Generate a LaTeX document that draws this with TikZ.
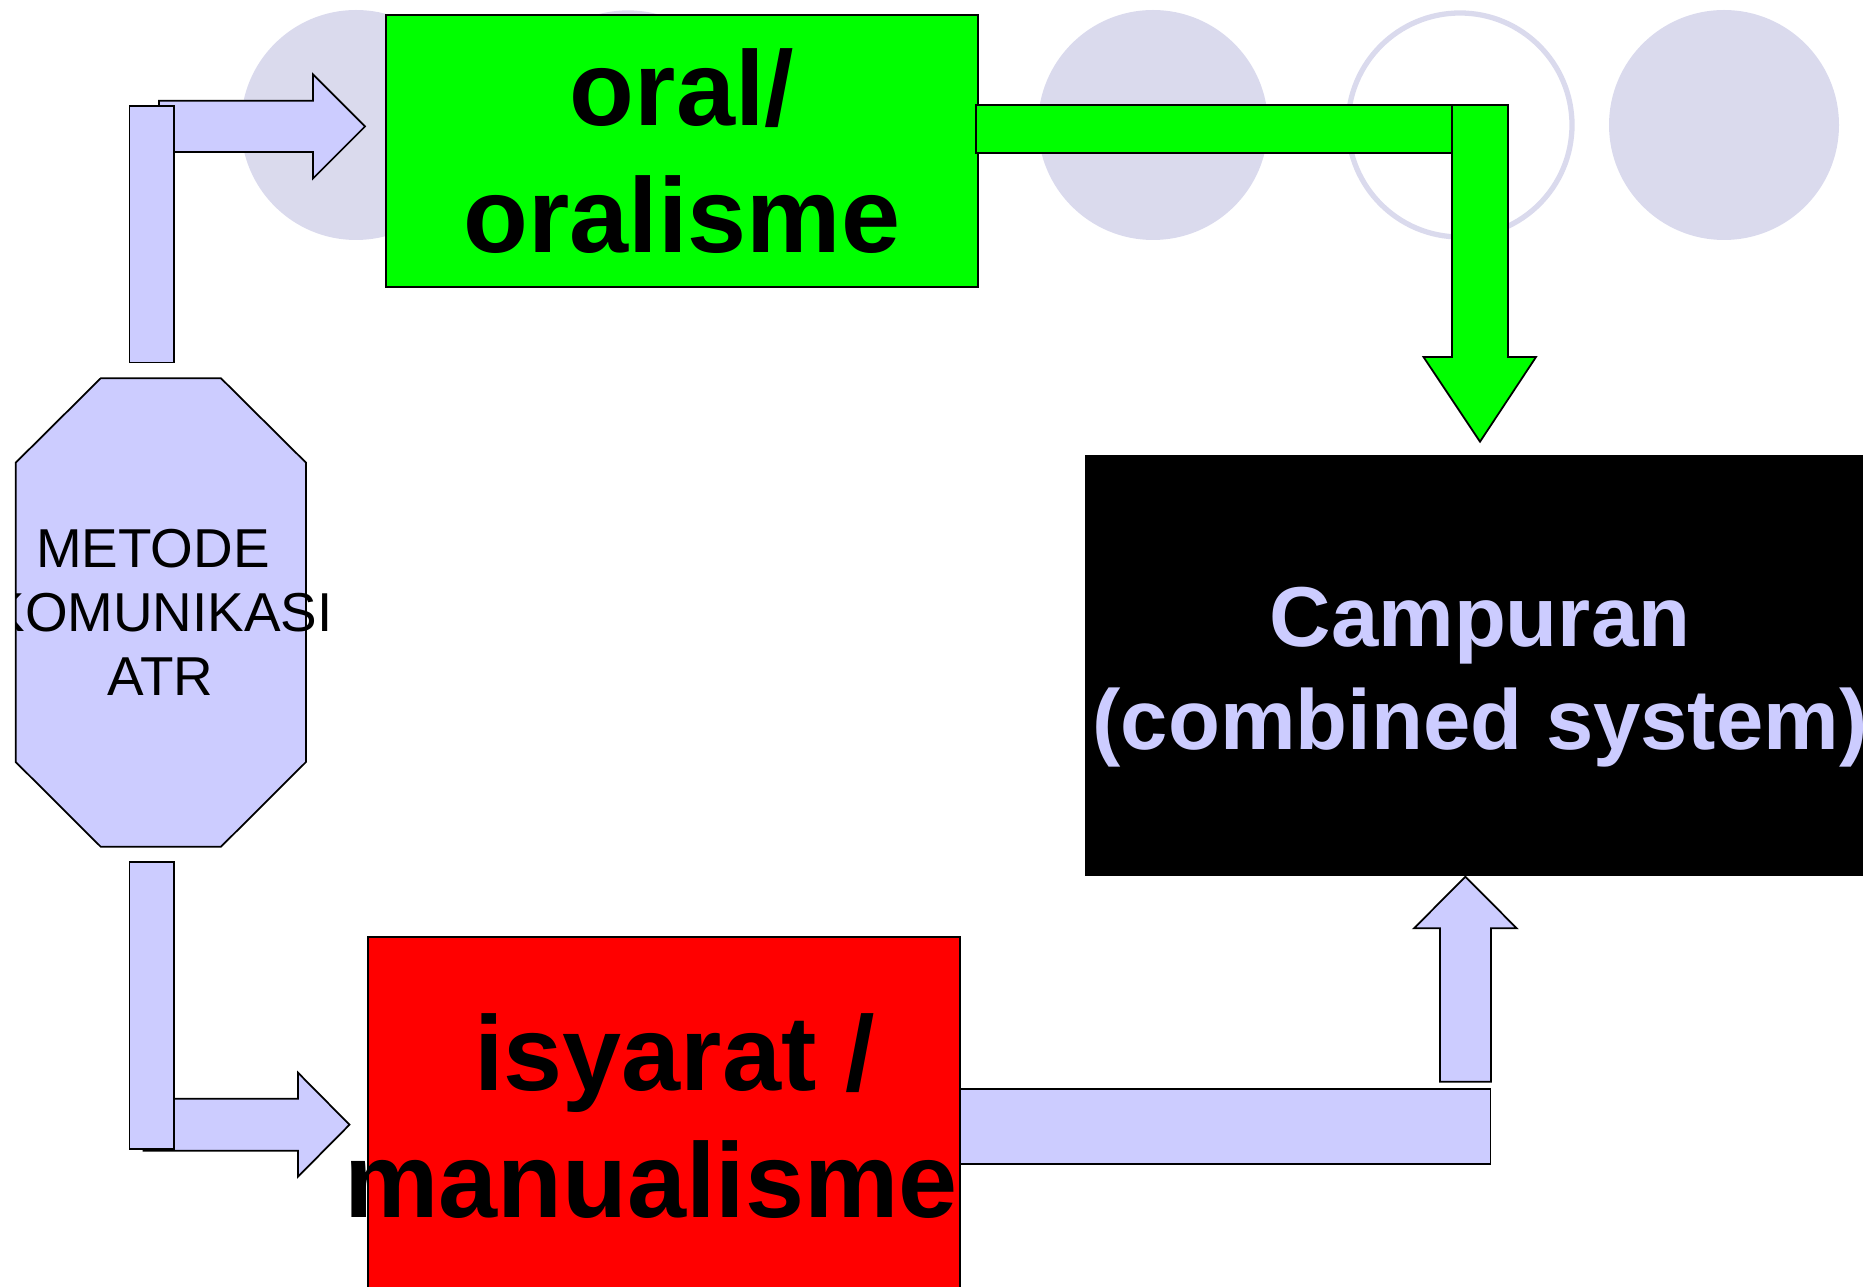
\documentclass[tikz,border=0pt]{standalone}
\usepackage{fontspec}
\setmainfont{Liberation Sans}
\usetikzlibrary{positioning}

\definecolor{lav}{RGB}{204,204,255}
\definecolor{disc}{RGB}{218,218,237}
\definecolor{oralgreen}{RGB}{0,255,0}
\definecolor{isyred}{RGB}{255,0,0}

\begin{document}
\begin{tikzpicture}[x=0.1mm, y=-0.1mm, line width=0.5pt,
    bar/.style={draw=black, fill=lav},
    greenbar/.style={draw=black, fill=oralgreen},
    box/.style={draw=black, inner sep=0pt},
    bigtext/.style={inner sep=0pt, align=center, font=\bfseries\fontsize{30.2}{36.3}\selectfont},
    midtext/.style={inner sep=0pt, align=center, font=\bfseries\fontsize{24.2}{29.3}\selectfont, text=lav},
    smalltext/.style={inner sep=0pt, align=center, font=\fontsize{15.6}{18.2}\selectfont}]
        \useasboundingbox (0,0) rectangle (1863,1287);
        \clip (0,0) rectangle (1863,1287);
        % Background discs along the top
        \foreach \cx in {356,1153,1724} {
            \fill[disc] (\cx,125) circle (115);
        }
        \foreach \cx in {628,1460} {
            \draw[disc, line width=1.5pt] (\cx,125) circle (112);
        }
        % Arrow up to oral box
        \draw[bar] (159,100.7) -- (313,100.7) -- (313,74.5) -- (365,126.5) -- (313,178.5) -- (313,152) -- (159,152) -- cycle;
        \draw[bar] (129.5,105.7) rectangle (174.3,362.5);
        % Oral box
        \node[box, fill=oralgreen, minimum width=59.2mm, minimum height=27.2mm] (oral) at (682,151) {};
        \node[bigtext] (oraltxt) at (oral.center) {oral/\\oralisme};
        % Green arrow down to campuran
        \draw[greenbar] (976,105) rectangle (1457,153);
        \draw[greenbar] (1452,105) -- (1508,105) -- (1508,357) -- (1536,357) -- (1480,441.7) -- (1423.5,357) -- (1452,357) -- cycle;
        % Campuran box
        \node[box, fill=black, minimum width=78.9mm, minimum height=41.9mm] (camp) at (1480.5,665.5) {};
        \node[midtext] (camptxt) at (1480,677) {Campuran\\(combined system)};
        % Octagon
        \draw[bar] (100.7,378.3) -- (221,378.3) -- (306,462.7) -- (306,762) -- (221,846.7) -- (100.7,846.7) -- (15.7,762) -- (15.7,462.7) -- cycle;
        \begin{scope}
            \clip (15.7,0) rectangle (1863,1287);
            \node[smalltext] (metode) at (160.6,612.5) {METODE\hspace*{0.28em}\\KOMUNIKASI\\ATR};
        \end{scope}
        % Arrow down to isyarat box
        \draw[bar] (143.5,1098.7) -- (298,1098.7) -- (298,1072.7) -- (349.5,1124.7) -- (298,1176.7) -- (298,1150.7) -- (143.5,1150.7) -- cycle;
        \draw[bar] (129.5,862.3) rectangle (174.3,1149.3);
        % Isyarat box
        \node[box, fill=isyred, minimum width=59.2mm, minimum height=35.5mm] (isy) at (664,1114.5) {};
        \node[bigtext] (isytxt) at (651,1116) {\hspace*{0.45em}isyarat /\\manualisme};
        % Arrow up to campuran
        \draw[bar] (960.5,1088.7) rectangle (1490.5,1164.3);
        \draw[bar] (1440,1081.7) -- (1440,928.3) -- (1414,928.3) -- (1465.4,876.7) -- (1516.7,928.3) -- (1491,928.3) -- (1491,1081.7) -- cycle;
\end{tikzpicture}
\end{document}
